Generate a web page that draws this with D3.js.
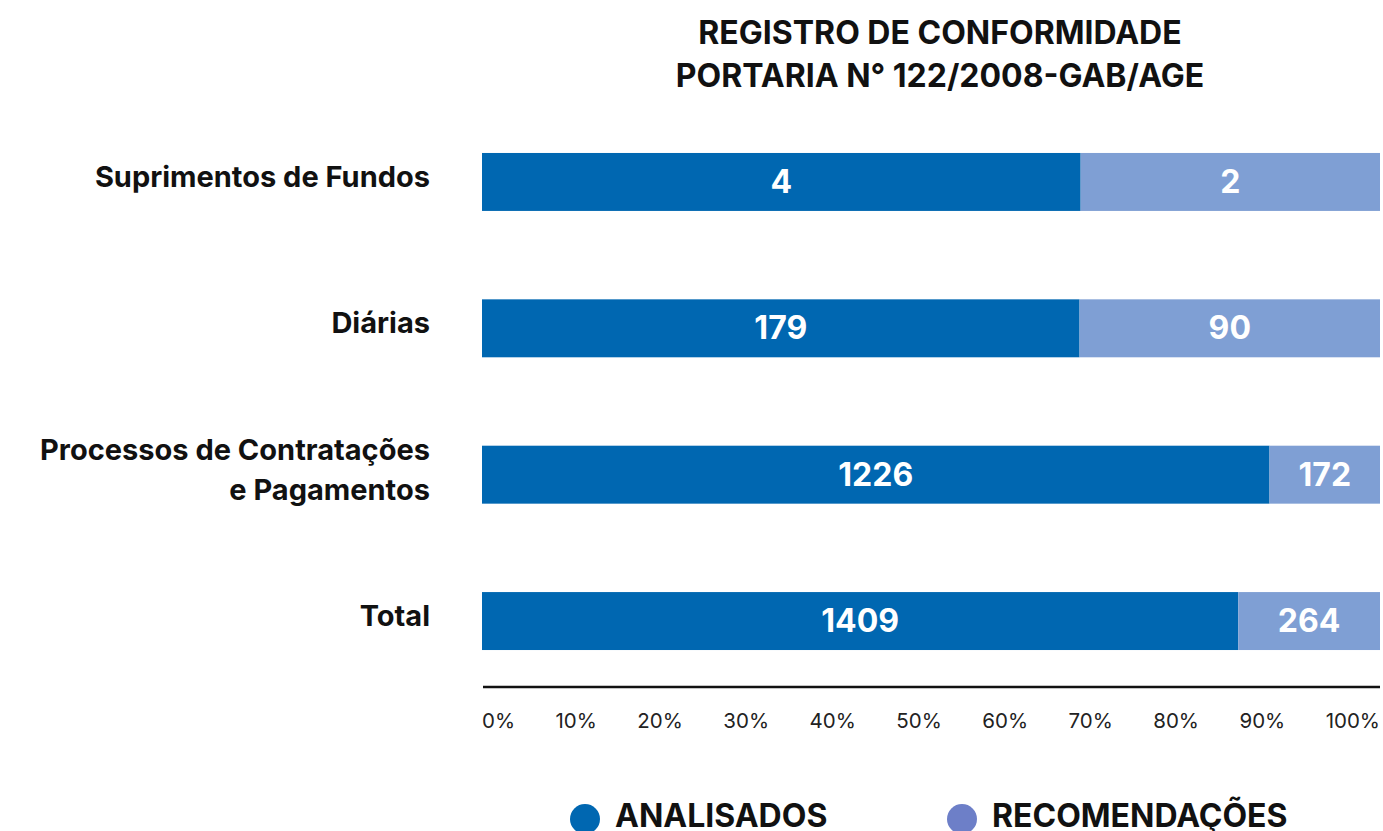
<!DOCTYPE html>
<html>
<head>
<meta charset="utf-8">
<script src="https://cdn.jsdelivr.net/npm/d3@7"></script>
<style>
  body { margin: 0; background: #fff; }
  svg { display: block; font-family: Inter, "Noto Sans", sans-serif; }
</style>
</head>
<body>
<div id="chart"></div>
<script>
// chart size
var width = 1383;
var height = 831;

// data
var categories = ["Suprimentos de Fundos", "Diárias", "Processos de Contratações\ne Pagamentos", "Total"];
var analisados = [4, 179, 1226, 1409];
var recomendacoes = [2, 90, 172, 264];
var seriesNames = ["ANALISADOS", "RECOMENDAÇÕES"];
var tickValues = [0, 0.1, 0.2, 0.3, 0.4, 0.5, 0.6, 0.7, 0.8, 0.9, 1];
var titleLines = ["REGISTRO DE CONFORMIDADE", "PORTARIA N° 122/2008-GAB/AGE"];

var darkBlue = "#0067b1";
var lightBlue = "#7f9fd4";
var legendLight = "#6d7fc8";

var margin = { left: 482, right: 3 };

var svg = d3.select("#chart")
  .append("svg")
  .attr("width", width)
  .attr("height", height);

// title
svg.append("g")
  .selectAll("text")
  .data(titleLines)
  .enter()
  .append("text")
  .attr("x", 940)
  .attr("y", function(d, i) { return 44 + i * 43; })
  .attr("text-anchor", "middle")
  .style("font-size", "32px")
  .style("font-weight", 700)
  .style("fill", "#111")
  .text(function(d) { return d; });

// scales
var x = d3.scaleLinear()
  .domain([0, 1])
  .range([margin.left, width - margin.right]);

var y = d3.scaleBand()
  .domain(d3.range(categories.length))
  .range([123.7, 679.3])
  .paddingInner(0.604)
  .paddingOuter(0.2);

// stacked proportions
var rows = categories.map(function(c, i) {
  var total = analisados[i] + recomendacoes[i];
  return { i: i, name: c, a: analisados[i], r: recomendacoes[i], pa: analisados[i] / total };
});

var bars = svg.append("g")
  .selectAll("g")
  .data(rows)
  .enter()
  .append("g");

bars.append("rect")
  .attr("x", x(0))
  .attr("y", function(d) { return y(d.i); })
  .attr("width", function(d) { return x(d.pa) - x(0); })
  .attr("height", y.bandwidth())
  .style("fill", darkBlue);

bars.append("rect")
  .attr("x", function(d) { return x(d.pa); })
  .attr("y", function(d) { return y(d.i); })
  .attr("width", function(d) { return x(1) - x(d.pa); })
  .attr("height", y.bandwidth())
  .style("fill", lightBlue);

// value labels
bars.append("text")
  .attr("x", function(d) { return (x(0) + x(d.pa)) / 2; })
  .attr("y", function(d) { return y(d.i) + y.bandwidth() / 2 + 11; })
  .attr("text-anchor", "middle")
  .style("font-size", "32px")
  .style("font-weight", 700)
  .style("fill", "#fff")
  .text(function(d) { return d.a; });

bars.append("text")
  .attr("x", function(d) { return (x(d.pa) + x(1)) / 2; })
  .attr("y", function(d) { return y(d.i) + y.bandwidth() / 2 + 11; })
  .attr("text-anchor", "middle")
  .style("font-size", "32px")
  .style("font-weight", 700)
  .style("fill", "#fff")
  .text(function(d) { return d.r; });

// category labels
var catLabels = svg.append("g")
  .selectAll("text")
  .data(rows)
  .enter()
  .append("text")
  .attr("text-anchor", "end")
  .style("font-size", "29px")
  .style("font-weight", 700)
  .style("fill", "#111");

catLabels.each(function(d) {
  var lines = d.name.split("\n");
  var cy = y(d.i) + y.bandwidth() / 2 - 5;
  var lh = 40;
  var top = cy - (lines.length - 1) * lh / 2 + 10;
  d3.select(this).selectAll("tspan")
    .data(lines)
    .enter()
    .append("tspan")
    .attr("x", 430)
    .attr("y", function(l, j) { return top + j * lh; })
    .text(function(l) { return l; });
});

// x axis line
svg.append("line")
  .attr("x1", x(0) + 1)
  .attr("x2", x(1))
  .attr("y1", 687)
  .attr("y2", 687)
  .style("stroke", "#111")
  .style("stroke-width", 2.3);

// tick labels, spread edge to edge
var tickG = svg.append("g");
var tickTexts = tickG.selectAll("text")
  .data(tickValues)
  .enter()
  .append("text")
  .attr("y", 728)
  .style("font-size", "20.5px")
  .style("fill", "#222")
  .text(d3.format(".0%"));

var widths = [];
tickTexts.each(function() { widths.push(this.getComputedTextLength()); });
var gap = (x(1) - x(0) - d3.sum(widths)) / (tickValues.length - 1);
var pos = x(0);
tickTexts.attr("x", function(d, i) {
  var p = pos;
  pos += widths[i] + gap;
  return p;
});

// legend
var legend = svg.append("g")
  .selectAll("g")
  .data(seriesNames)
  .enter()
  .append("g")
  .attr("transform", function(d, i) { return "translate(" + (585 + i * 377) + ",819)"; });

legend.append("circle")
  .attr("r", 15)
  .style("fill", function(d, i) { return i === 0 ? darkBlue : legendLight; });

legend.append("text")
  .attr("x", 30)
  .attr("y", 8)
  .style("font-size", "32px")
  .style("font-weight", 700)
  .style("fill", "#111")
  .text(function(d) { return d; });
</script>
</body>
</html>
